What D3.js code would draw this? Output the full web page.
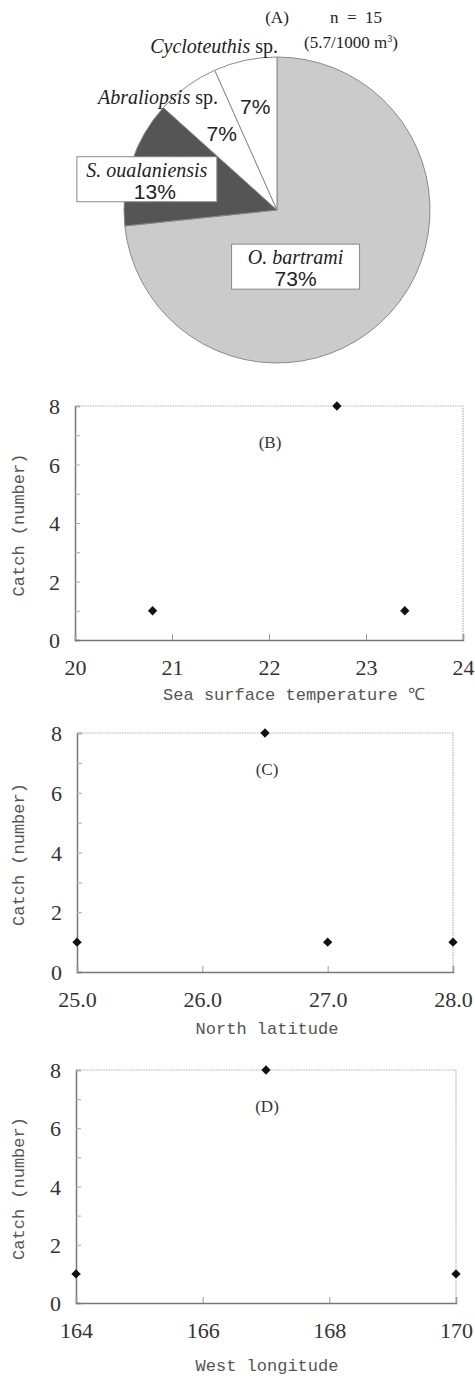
<!DOCTYPE html>
<html>
<head>
<meta charset="utf-8">
<script src="https://cdn.jsdelivr.net/npm/d3@7"></script>
<style>
  body { margin: 0; background: #fff; }
  svg { display: block; }
</style>
</head>
<body>
<div id="chart"></div>
<script>
'use strict';

// (A) catch composition, n = 15
var species = ['O. bartrami', 'S. oualaniensis', 'Abraliopsis', 'Cycloteuthis'];
var counts = [11, 2, 1, 1];

// catch (number) against sea surface temperature, latitude, longitude
var sstValues = [20.8, 22.7, 23.4];
var sstCatch = [1, 8, 1];
var latValues = [25.0, 26.5, 27.0, 28.0];
var latCatch = [1, 8, 1, 1];
var lonValues = [164, 167, 170];
var lonCatch = [1, 8, 1];

var sstTicks = [20, 21, 22, 23, 24];
var latTicks = [25, 26, 27, 28];
var lonTicks = [164, 166, 168, 170];
var catchTicks = [0, 2, 4, 6, 8];

var W = 475, H = 1378;
var svg = d3.select('#chart').append('svg')
    .attr('width', W)
    .attr('height', H);

// ---------- pie ----------
var cx = 277, cy = 210, R = 153;
var total = d3.sum(counts);
var pieColors = ['#cbcbcb', '#555555', '#ffffff', '#ffffff'];

var arcs = d3.pie().sort(null).value(function(d) { return d; })(counts);
var arc = d3.arc().innerRadius(0).outerRadius(R);

var pieG = svg.append('g').attr('transform', 'translate(' + cx + ',' + cy + ')');

pieG.selectAll('path')
    .data(arcs)
  .enter().append('path')
    .attr('d', arc)
    .attr('fill', function(d, i) { return pieColors[i]; })
    .attr('stroke', '#8a8a8a')
    .attr('stroke-width', 1);

function pct(v) { return Math.round(v / total * 100) + '%'; }

// label placement around slice mid angle (radius, dx, dy)
var labelAt = [[60, -26, 17], [140, 3, 13], [94, 0, 0], [105, 0, 0]];
function labelPoint(i) {
    var a = (arcs[i].startAngle + arcs[i].endAngle) / 2;
    var r = labelAt[i][0];
    return [Math.sin(a) * r + labelAt[i][1], -Math.cos(a) * r + labelAt[i][2]];
}

var italic = 'font-family:"Liberation Serif",serif;font-style:italic;font-size:20px;fill:#222';
var pctFont = 'font-family:"Liberation Sans Narrow","Liberation Sans",sans-serif;font-size:21px;fill:#222';

// boxed labels for the two larger slices
function boxLabel(x, y, name, boxW) {
    var g = pieG.append('g').attr('transform', 'translate(' + x + ',' + y + ')');
    g.append('rect')
        .attr('x', -boxW / 2).attr('y', -23)
        .attr('width', boxW).attr('height', 45)
        .attr('fill', '#fff')
        .attr('stroke', '#888')
        .attr('stroke-width', 1);
    g.append('text')
        .attr('text-anchor', 'middle')
        .attr('y', -3)
        .attr('style', italic)
        .text(name);
    return g;
}

var p0 = labelPoint(0);
boxLabel(p0[0], p0[1], species[0], 128)
  .append('text')
    .attr('text-anchor', 'middle')
    .attr('y', 19)
    .attr('style', pctFont)
    .text(pct(counts[0]));

var p1 = labelPoint(1);
boxLabel(p1[0], p1[1], species[1], 140)
  .append('text')
    .attr('text-anchor', 'middle')
    .attr('x', 8)
    .attr('y', 19)
    .attr('style', pctFont)
    .text(pct(counts[1]));

[2, 3].forEach(function(i) {
    var p = labelPoint(i);
    pieG.append('text')
        .attr('x', p[0]).attr('y', p[1] + 7)
        .attr('text-anchor', 'middle')
        .attr('style', pctFont)
        .text(pct(counts[i]));
});

// outside names for the two small slices
svg.append('text')
    .attr('x', 218).attr('y', 104)
    .attr('text-anchor', 'end')
    .attr('style', 'font-family:"Liberation Serif",serif;font-size:20px;fill:#222')
    .call(function(t) {
        t.append('tspan').attr('font-style', 'italic').text(species[2]);
        t.append('tspan').text(' sp.');
    });
svg.append('text')
    .attr('x', 278).attr('y', 53)
    .attr('text-anchor', 'end')
    .attr('style', 'font-family:"Liberation Serif",serif;font-size:20px;fill:#222')
    .call(function(t) {
        t.append('tspan').attr('font-style', 'italic').text(species[3]);
        t.append('tspan').text(' sp.');
    });

var serif = 'font-family:"Liberation Serif",serif;font-size:17px;fill:#222;white-space:pre';
svg.append('text').attr('x', 277).attr('y', 23).attr('text-anchor', 'middle')
    .attr('style', serif).text('(A)');
svg.append('text').attr('x', 356).attr('y', 23).attr('text-anchor', 'middle')
    .attr('style', serif).text('n  =  ' + total);
svg.append('text').attr('x', 351).attr('y', 48).attr('text-anchor', 'middle')
    .attr('style', serif)
    .call(function(t) {
        t.append('tspan').text('(5.7/1000 m');
        t.append('tspan').attr('dy', -6).attr('font-size', '10px').text('3');
        t.append('tspan').attr('dy', 6).text(')');
    });

// ---------- scatter panels ----------
var monoFont = 'font-family:"Liberation Mono",monospace;font-size:17px;fill:#555';
var tickFont = 'font-family:"Liberation Serif",serif;font-size:22px;fill:#333';

function scatter(opt) {
    var x = d3.scaleLinear().domain(opt.xDomain).range([opt.left, opt.right]);
    var y = d3.scaleLinear().domain([0, 8]).range([opt.bottom, opt.top]);
    var g = svg.append('g');

    // frame top + right (light dotted)
    g.append('path')
        .attr('d', 'M' + opt.left + ',' + opt.top + 'H' + opt.right + 'V' + opt.bottom)
        .attr('fill', 'none')
        .attr('stroke', '#b5b5b5')
        .attr('stroke-width', 1.2)
        .attr('stroke-dasharray', '1.5,1');

    // y axis, ticks point inward
    var yAxis = g.append('g')
        .attr('transform', 'translate(' + opt.left + ',0)')
        .call(d3.axisRight(y).tickValues(d3.range(0, 9)).tickSize(5)
            .tickFormat(function(d) { return catchTicks.indexOf(d) >= 0 ? d : ''; }));
    yAxis.select('.domain').attr('stroke', '#777').attr('stroke-width', 1.5);
    yAxis.selectAll('.tick line').attr('stroke', '#aaa');
    yAxis.selectAll('.tick text')
        .attr('x', -15).attr('text-anchor', 'end').attr('dy', '0.35em')
        .attr('style', tickFont);

    var xAxis = g.append('g')
        .attr('transform', 'translate(0,' + opt.bottom + ')')
        .call(d3.axisTop(x).tickValues(opt.ticks).tickSize(6).tickFormat(opt.fmt));
    xAxis.select('.domain').attr('stroke', '#777').attr('stroke-width', 1.5);
    xAxis.selectAll('.tick line').attr('stroke', '#999');
    xAxis.selectAll('.tick text')
        .attr('y', 35).attr('dy', 0)
        .attr('style', tickFont);

    // diamond markers
    g.selectAll('path.pt')
        .data(opt.xs)
      .enter().append('path')
        .attr('class', 'pt')
        .attr('d', d3.symbol().type(d3.symbolDiamond2).size(55))
        .attr('transform', function(d, i) {
            return 'translate(' + x(d) + ',' + y(opt.ys[i]) + ')';
        })
        .attr('fill', '#111');

    g.append('text')
        .attr('x', opt.panelX).attr('y', opt.top + 42)
        .attr('text-anchor', 'middle')
        .attr('style', 'font-family:"Liberation Serif",serif;font-size:17px;fill:#333')
        .text(opt.panel);

    g.append('text')
        .attr('x', opt.titleX).attr('y', opt.bottom + opt.titleDy)
        .attr('text-anchor', 'middle')
        .attr('style', monoFont)
        .text(opt.title);

    g.append('text')
        .attr('transform', 'translate(24,' + ((opt.top + opt.bottom) / 2 + 2) + ') rotate(-90)')
        .attr('text-anchor', 'middle')
        .attr('style', monoFont)
        .text('Catch (number)');
}

scatter({
    xDomain: [20, 24], left: 75, right: 463, top: 406, bottom: 640,
    ticks: sstTicks, fmt: d3.format('d'),
    xs: sstValues, ys: sstCatch,
    panel: '(B)', panelX: 270,
    title: 'Sea surface temperature \u2103', titleX: 294, titleDy: 60
});

scatter({
    xDomain: [25, 28], left: 77, right: 453, top: 733, bottom: 972,
    ticks: latTicks, fmt: d3.format('.1f'),
    xs: latValues, ys: latCatch,
    panel: '(C)', panelX: 267,
    title: 'North latitude', titleX: 267, titleDy: 62
});

scatter({
    xDomain: [164, 170], left: 76, right: 456, top: 1070, bottom: 1303,
    ticks: lonTicks, fmt: d3.format('d'),
    xs: lonValues, ys: lonCatch,
    panel: '(D)', panelX: 267,
    title: 'West longitude', titleX: 267, titleDy: 68
});
</script>
</body>
</html>
